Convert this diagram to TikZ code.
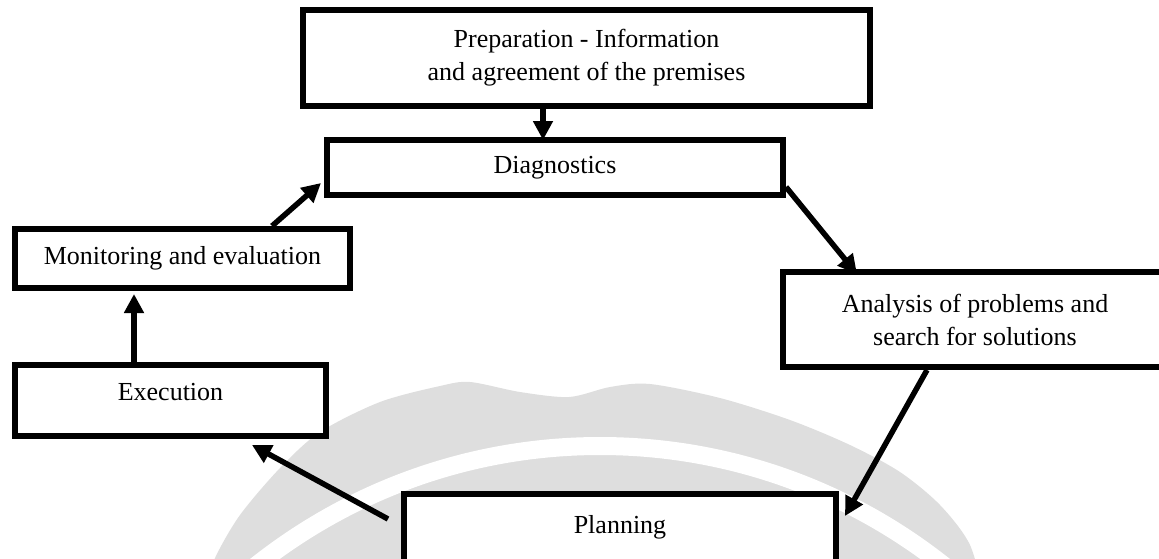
\documentclass[tikz,border=0pt]{standalone}
\usepackage{fontspec}
\setmainfont{Liberation Serif}
\usetikzlibrary{arrows.meta,calc}
\begin{document}
\begin{tikzpicture}[x=1pt,y=-1pt,
  box/.style={draw=black, fill=white, line width=6pt, inner sep=0pt, align=center,
    font=\fontsize{26}{33}\selectfont},
  arr/.style={line width=5.5pt, -{Triangle[width=19pt,length=19pt]}},
  wm/.style={fill=black!13}]
\useasboundingbox (0,0) rectangle (1159,558);
\clip (0,0) rectangle (1159,558);
% watermark seal
\fill[wm] plot[smooth] coordinates {(200,600) (215,558) (240,515) (280,468) (320,432) (380,402) (440,386) (470,382) (520,392) (569,397) (610,387) (650,384) (720,398) (790,420) (850,445) (900,472) (940,505) (970,545) (985,600)} -- cycle;
\fill[white, even odd rule] (600,1000) circle[radius=563pt] (600,1000) circle[radius=545pt];
% boxes
\node[box, minimum width=567pt, minimum height=96pt] (prep) at (586.5,58) {Preparation - Information\\and agreement of the premises};
\node[box, minimum width=456pt, minimum height=55pt] (diag) at (555,167.5) {Diagnostics};
\node[box, minimum width=335pt, minimum height=59pt] (mon) at (182.5,258.5) {Monitoring and evaluation};
\node[box, minimum width=311pt, minimum height=71pt, text height=18pt, text depth=18pt] (exec) at (170.5,400.5) {Execution};
\node[box, minimum width=384pt, minimum height=95pt] (ana) at (975,319.5) {Analysis of problems and\\search for solutions};
\node[box, minimum width=432pt, minimum height=71pt, text height=23pt, text depth=16pt] (plan) at (620,529.5) {Planning};
\coordinate (ps) at (388,519);
% connectors
\draw[arr] (prep.south -| 543,0) -- ($(diag.north -| 543,0)+(0,3)$);
\draw[arr] (diag.east |- 0,187) -- ($(ana.north -| 857,0)+(0,5)$);
\draw[arr] (ana.south -| 927,0) -- ($(plan.east |- 0,516)+(6,0)$);
\draw[arr] (ps) -- ($(exec.south -| 252,0)+(0,6)$);
\draw[arr] (exec.north -| 134,0) -- ($(mon.south -| 134,0)+(0,3)$);
\draw[arr] (mon.north -| 272,0) -- ($(diag.west |- 0,183)+(-3,0)$);
\end{tikzpicture}
\end{document}
